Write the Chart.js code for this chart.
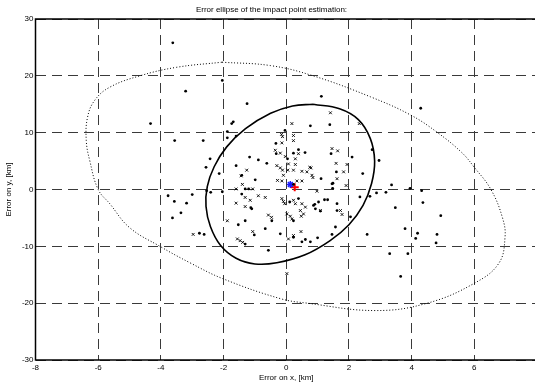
<!DOCTYPE html>
<html>
<head>
<meta charset="utf-8">
<script src="https://cdn.jsdelivr.net/npm/chart.js@4/dist/chart.umd.min.js"></script>
<style>
  html, body { margin: 0; padding: 0; background: #fff; overflow: hidden; }
  #wrap { width: 543px; height: 383px; }
</style>
</head>
<body>
<div id="wrap"><canvas id="chart" width="543" height="383"></canvas></div>
<script>
const xTicks = [-8, -6, -4, -2, 0, 2, 4, 6, 8];
const yTicks = [-30, -20, -10, 0, 10, 20, 30];

// simulated impacts, plain dots
const dots = [
    [-3.62, 25.8], [-2.04, 19.2], [-3.21, 17.3], [-1.25, 15.1], [-4.33, 11.6], [-1.69, 11.9], [-1.74, 11.6],
    [-1.88, 10.2], [-1.88, 9.1], [-1.6, 9.4], [-3.56, 8.6], [-2.65, 8.6], [-1.17, 5.7], [-0.89, 5.2],
    [-0.62, 4.6], [-2.43, 5.4], [-2.56, 3.9], [-2.14, 2.8], [-1.6, 4.2], [-0.99, 1.7], [-1.42, 2.5],
    [-1.2, 0.1], [-1.31, 0.1], [-2.54, -0.2], [-2.41, -0.5], [-2.04, -0.4], [-3.77, -1.1], [-3.0, -0.9],
    [-3.57, -2.1], [-3.18, -2.4], [-3.36, -4.1], [-3.63, -5.0], [-2.77, -7.7], [-2.62, -7.9], [-1.53, -6.2],
    [-1.31, -5.5], [-1.13, -3.2], [-0.67, -6.9], [-0.46, -5.5], [-0.57, -10.7], [-1.1, -3.4], [-1.02, -8.0],
    [-1.31, -9.6], [-1.42, -0.8], [-0.33, 8.1], [-0.32, 6.3], [0.04, 5.4], [0.23, 6.4], [0.39, 7.0],
    [0.6, 6.5], [0.23, 0.9], [1.11, 1.9], [1.46, 1.0], [1.6, 3.1], [1.43, 6.3], [-0.04, 10.4],
    [0.77, 11.2], [1.39, 11.4], [1.12, 16.4], [4.29, 14.3], [2.1, 5.7], [2.74, 7.0], [2.96, 5.1],
    [2.44, 2.8], [1.49, 1.1], [1.48, 0.2], [1.22, -1.8], [1.32, -1.8], [1.03, -2.2], [0.91, -2.6],
    [1.09, -3.8], [1.62, -2.5], [2.05, -4.8], [1.57, -6.6], [1.46, -7.9], [0.11, -2.2], [0.39, -1.6],
    [0.87, -2.8], [0.93, -3.4], [1.62, -3.7], [0.23, -5.5], [-0.19, -7.8], [0.23, -8.4], [0.5, -9.2],
    [0.61, -8.8], [0.77, -9.2], [1.0, -8.5], [2.35, -1.3], [2.67, -1.2], [2.88, -0.6], [3.18, -0.5],
    [3.36, 0.8], [3.95, 0.2], [4.32, -0.2], [4.36, -2.3], [3.48, -3.2], [4.93, -4.6], [2.58, -7.9],
    [3.79, -6.9], [4.19, -7.7], [4.13, -8.6], [4.81, -7.9], [4.78, -9.4], [3.3, -11.3], [3.88, -11.3],
    [3.65, -15.3]
];

// impacts drawn with an x marker
const crosses = [
    [0.18, 11.6], [-0.15, 9.7], [1.41, 13.5], [2.33, 11.6], [-0.14, 8.2], [-0.35, 6.9], [-0.19, 6.4],
    [-0.03, 5.8], [0.39, 6.3], [0.29, 5.4], [0.07, 4.5], [0.29, 4.4], [-0.3, 4.2], [-0.19, 3.8],
    [-0.12, 3.4], [0.05, 3.4], [0.23, 3.4], [0.5, 3.2], [0.66, 3.1], [0.79, 3.8], [0.85, 2.1],
    [-0.09, 2.5], [-0.28, 1.6], [-0.14, 1.5], [0.34, 1.5], [0.5, 1.5], [1.46, 7.2], [1.64, 6.8],
    [1.62, 1.9], [-1.26, 3.4], [-1.44, 2.4], [-1.4, 0.9], [1.59, 4.6], [1.94, 4.4], [1.83, 3.1],
    [1.91, 0.7], [0.98, -0.3], [1.73, -3.7], [1.78, -4.4], [0.02, -14.8], [0.23, -8.1], [0.47, -7.4],
    [0.07, -8.7], [-1.07, 0.1], [-1.31, -1.4], [-1.15, -1.9], [-0.89, -1.1], [-0.67, -1.4], [-0.57, -4.5],
    [-1.07, -7.4], [-1.47, -9.0], [-0.14, -1.6], [-0.09, -2.1], [-0.05, -2.5], [0.23, -1.9], [0.29, -2.5],
    [0.5, -2.5], [0.61, -3.1], [0.45, -3.7], [0.55, -4.3], [0.48, -4.7], [0.02, -4.3], [0.13, -4.7],
    [0.18, -5.2], [1.09, -3.7], [0.75, 3.9], [0.82, 2.5], [-1.6, 0.1], [-1.6, -2.4], [-1.31, -3.0],
    [-2.97, -7.9], [-1.88, -5.5], [-1.56, -8.7], [-1.39, -9.3], [-0.47, -4.9], [0.23, 9.5], [0.23, 8.6],
    [-0.12, 9.3]
];

const truePoint = [[0.13, 0.9]];
const estimate = [[0.27, 0.4]];

// contours, clockwise from the top
const innerEllipse = [
    [0.86, 15.0], [1.7, 14.2], [2.3, 12.3], [2.68, 9.0], [2.82, 5.0], [2.72, 1.0], [2.45, -2.8],
    [2.0, -6.2], [1.4, -9.0], [0.6, -11.5], [-0.3, -12.9], [-1.0, -13.1], [-1.6, -12.1], [-2.1, -9.8],
    [-2.42, -6.5], [-2.56, -3.0], [-2.52, 0.5], [-2.3, 4.0], [-1.9, 7.5], [-1.3, 10.7], [-0.5, 13.4],
    [0.2, 14.7], [0.86, 15.0]
];
const outerEllipse = [
    [-2.05, 22.4], [-0.5, 21.8], [0.86, 20.0], [2.69, 16.3], [3.97, 13.1], [4.83, 10.0], [5.6, 6.5],
    [6.0, 3.9], [6.53, 0.0], [6.9, -5.0], [6.98, -8.4], [6.78, -13.0], [6.0, -16.5], [4.5, -20.0],
    [2.85, -21.3], [0.67, -20.0], [-0.19, -19.2], [-2.02, -15.7], [-3.07, -12.9], [-4.03, -10.0], [-5.0, -6.7],
    [-5.63, -2.5], [-6.0, 0.0], [-6.27, 5.1], [-6.38, 8.6], [-6.34, 12.7], [-6.11, 15.7], [-5.63, 18.0],
    [-4.67, 20.0], [-3.5, 21.5], [-2.05, 22.4]
];

const pts = arr => arr.map(([x, y]) => ({ x, y }));
const font = { family: "'Liberation Sans', Arial, sans-serif", size: 8 };

const frame = {
    id: "frame",
    afterDatasetsDraw(chart) {
        const { ctx, chartArea: a } = chart;
        ctx.save();
        ctx.strokeStyle = "#000";
        ctx.lineWidth = 1.5;
        ctx.strokeRect(a.left, a.top, a.right - a.left, a.bottom - a.top);
        ctx.restore();
    }
};

new Chart(document.getElementById("chart"), {
    type: "scatter",
    data: {
        datasets: [{
            type: "line",
            data: pts(outerEllipse),
            borderColor: "#000",
            borderWidth: 1,
            borderDash: [1, 2],
            pointRadius: 0,
            tension: 0.4,
            fill: false,
        }, {
            type: "line",
            data: pts(innerEllipse),
            borderColor: "#000",
            borderWidth: 1.6,
            pointRadius: 0,
            tension: 0.4,
            fill: false,
        }, {
            data: pts(dots),
            pointStyle: "circle",
            pointRadius: 1.4,
            backgroundColor: "#000",
            borderColor: "#000",
            borderWidth: 0,
        }, {
            data: pts(crosses),
            pointStyle: "crossRot",
            pointRadius: 2,
            borderColor: "#000",
            borderWidth: 0.9,
        }, {
            data: pts(truePoint),
            pointStyle: "star",
            pointRadius: 3.5,
            borderColor: "#1a1aff",
            borderWidth: 1.5,
        }, {
            data: pts(estimate),
            pointStyle: "cross",
            pointRadius: 4,
            borderColor: "#ff0000",
            borderWidth: 2,
        }]
    },
    options: {
        responsive: false,
        animation: false,
        layout: { padding: { left: 0, right: 0, top: 0, bottom: 0 } },
        plugins: {
            legend: { display: false },
            tooltip: { enabled: false },
            title: {
                display: true,
                text: "Error ellipse of the impact point estimation:",
                color: "#000",
                font: { ...font, weight: "normal" },
                padding: { top: 5, bottom: 4.4 },
            },
        },
        scales: {
            x: {
                type: "linear",
                min: -8,
                max: 8,
                afterBuildTicks: s => { s.ticks = xTicks.map(v => ({ value: v })); },
                afterFit: s => { s.height = 23; },
                grid: { color: "#3a3a3a", lineWidth: 1, drawTicks: false },
                border: { display: false, dash: [10, 6] },
                ticks: { color: "#000", font, padding: 3, maxRotation: 0, autoSkip: false },
                title: {
                    display: true,
                    text: "Error on x, [km]",
                    color: "#000",
                    font,
                    padding: { top: 0, bottom: 0 },
                },
            },
            y: {
                type: "linear",
                min: -30,
                max: 30,
                afterBuildTicks: s => { s.ticks = yTicks.map(v => ({ value: v })); },
                afterFit: s => { s.width = 35.5; },
                grid: { color: "#3a3a3a", lineWidth: 1, drawTicks: false },
                border: { display: false, dash: [10, 6] },
                ticks: { color: "#000", font, padding: 2, autoSkip: false },
                title: {
                    display: true,
                    text: "Error on y, [km]",
                    color: "#000",
                    font,
                    padding: { top: 4, bottom: 0 },
                },
            },
        },
    },
    plugins: [frame],
});
</script>
</body>
</html>
